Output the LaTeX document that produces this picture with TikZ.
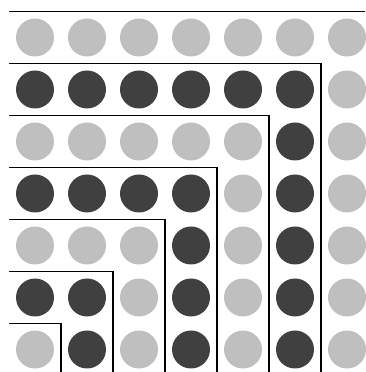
\documentclass[tikz,border=0pt]{standalone}
\definecolor{lightdot}{HTML}{BFBFBF}
\definecolor{darkdot}{HTML}{404040}
\tikzset{
  dot/.style={circle,inner sep=0pt,minimum size=38pt,draw=none},
  lightball/.style={dot,fill=lightdot},
  darkball/.style={dot,fill=darkdot},
  gnomonline/.style={line width=1.2pt,black}
}
\begin{document}
\begin{tikzpicture}[x=1pt,y=1pt]
\useasboundingbox (0,0) rectangle (365,372);
% dots: column c (left to right), row r (bottom to top)
\foreach \c in {0,...,6}{
  \foreach \r in {0,...,6}{
    \pgfmathtruncatemacro{\k}{max(\c,\r)}
    \pgfmathtruncatemacro{\odd}{mod(\k,2)}
    \pgfmathsetmacro{\px}{35+52*\c}
    \pgfmathsetmacro{\py}{372-(37.5+52*(6-\r))}
    \ifnum\odd=1
      \node[darkball] (d-\c-\r) at (\px,\py) {};
    \else
      \node[lightball] (d-\c-\r) at (\px,\py) {};
    \fi
  }
}
% gnomon boundary lines
\foreach \k in {1,...,6}{
  \pgfmathsetmacro{\ly}{372-(37.5+52*(6-\k)+26)}
  \pgfmathsetmacro{\lx}{61+52*(\k-1)}
  \coordinate (s-\k) at (9,\ly);
  \coordinate (m-\k) at (\lx,\ly);
  \coordinate (e-\k) at (\lx,0);
  \draw[gnomonline] (s-\k) -- (m-\k) -- (e-\k);
}
\coordinate (s-7) at (9,360.5);
\coordinate (e-7) at (365,360.5);
\draw[gnomonline] (s-7) -- (e-7);
\end{tikzpicture}
\end{document}
